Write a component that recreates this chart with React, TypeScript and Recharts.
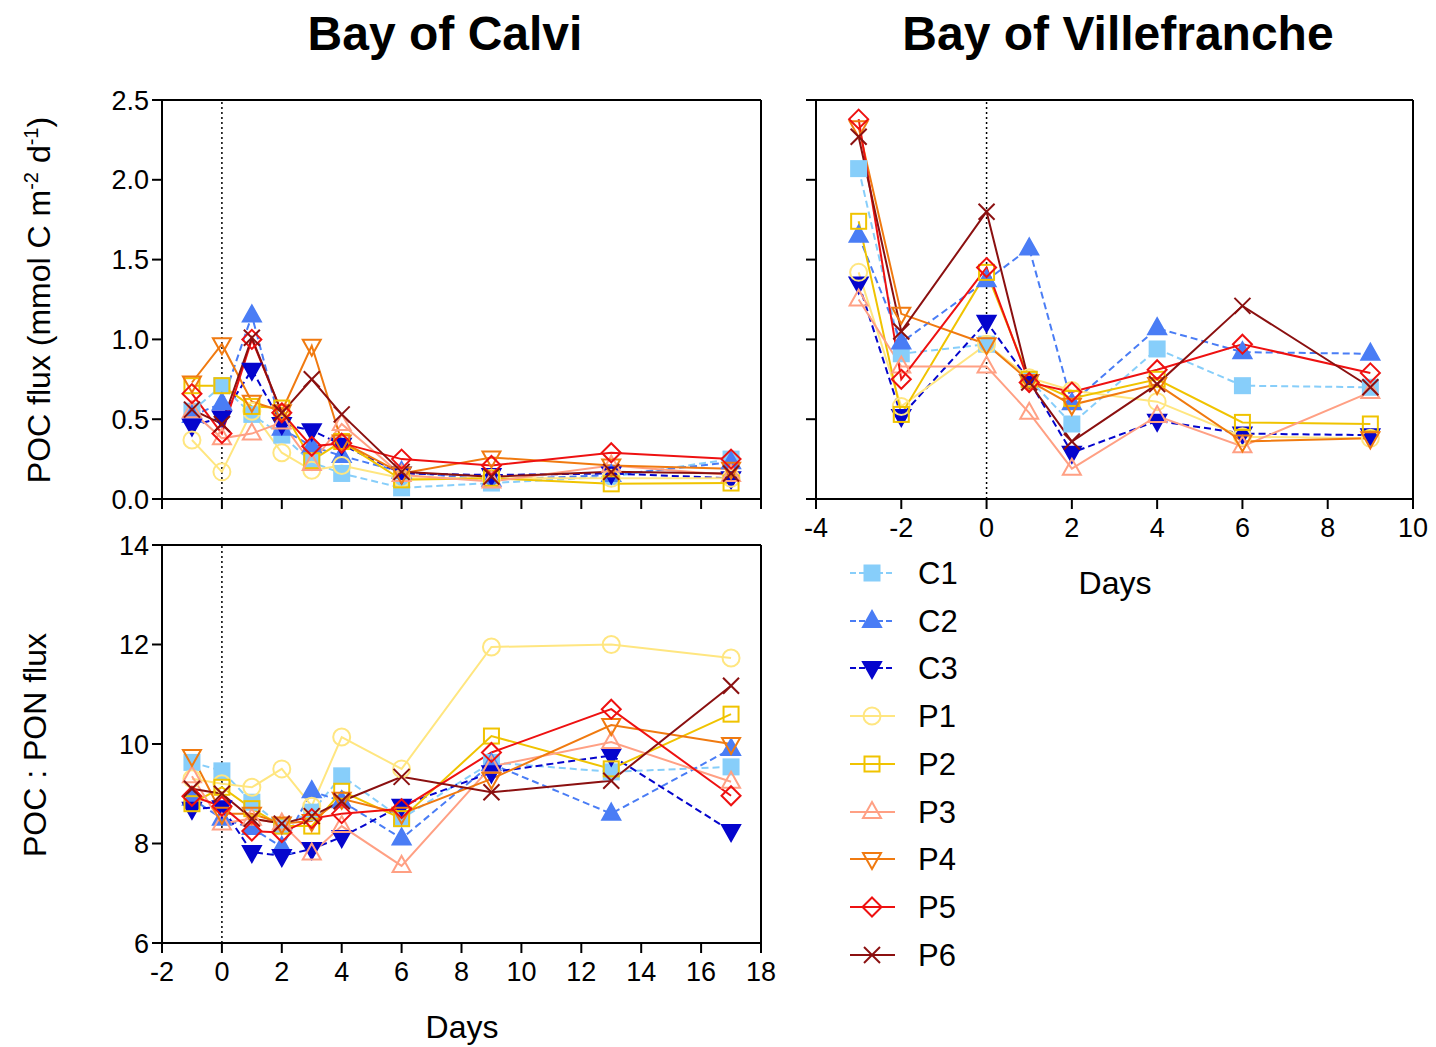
import React from 'react';
import { LineChart, Line, XAxis, YAxis, ReferenceLine } from 'recharts';

// ---------- categories ----------
const calviDays = [-1, 0, 1, 2, 3, 4, 6, 9, 13, 17];
const villeDays = [-3, -2, 0, 1, 2, 4, 6, 9];

// ---------- Bay of Calvi : POC flux ----------
const calviPocC1 = [0.55, 0.71, 0.53, 0.40, 0.23, 0.16, 0.07, 0.10, 0.14, 0.25];
const calviPocC2 = [0.52, 0.60, 1.15, 0.44, 0.33, 0.27, 0.17, 0.12, 0.15, 0.23];
const calviPocC3 = [0.46, 0.51, 0.81, 0.47, 0.43, 0.34, 0.16, 0.15, 0.16, 0.13];
const calviPocP1 = [0.37, 0.17, 0.55, 0.29, 0.18, 0.21, 0.13, 0.13, 0.13, 0.13];
const calviPocP2 = [0.71, 0.71, 0.58, 0.57, 0.24, 0.36, 0.12, 0.13, 0.095, 0.10];
const calviPocP3 = [0.55, 0.38, 0.41, 0.48, 0.22, 0.47, 0.15, 0.11, 0.21, 0.15];
const calviPocP4 = [0.73, 0.97, 0.61, 0.55, 0.96, 0.36, 0.16, 0.26, 0.21, 0.19];
const calviPocP5 = [0.66, 0.41, 1.00, 0.54, 0.33, 0.35, 0.25, 0.21, 0.29, 0.25];
const calviPocP6 = [0.56, 0.47, 1.01, 0.54, 0.75, 0.53, 0.17, 0.14, 0.17, 0.16];

// ---------- Bay of Villefranche : POC flux ----------
const villePocC1 = [2.07, 0.91, 0.97, 0.75, 0.47, 0.94, 0.71, 0.70];
const villePocC2 = [1.65, 0.98, 1.37, 1.57, 0.60, 1.07, 0.92, 0.91];
const villePocC3 = [1.35, 0.52, 1.11, 0.74, 0.29, 0.49, 0.41, 0.40];
const villePocP1 = [1.42, 0.58, 0.97, 0.76, 0.68, 0.61, 0.39, 0.38];
const villePocP2 = [1.74, 0.53, 1.42, 0.75, 0.63, 0.75, 0.48, 0.47];
const villePocP3 = [1.25, 0.83, 0.83, 0.54, 0.19, 0.52, 0.33, 0.67];
const villePocP4 = [2.33, 1.16, 0.97, 0.74, 0.59, 0.72, 0.36, 0.38];
const villePocP5 = [2.38, 0.75, 1.45, 0.73, 0.67, 0.81, 0.97, 0.79];
const villePocP6 = [2.27, 1.05, 1.80, 0.73, 0.36, 0.72, 1.21, 0.70];

// ---------- Bay of Calvi : POC : PON ----------
const calviRatioC1 = [9.63, 9.46, 8.83, 8.35, 8.63, 9.36, 8.50, 9.63, 9.44, 9.54];
const calviRatioC2 = [8.90, 8.50, 8.31, 7.93, 9.05, 8.85, 8.10, 9.60, 8.60, 9.90];
const calviRatioC3 = [8.70, 8.73, 7.83, 7.75, 7.89, 8.13, 8.76, 9.43, 9.77, 8.25];
const calviRatioP1 = [9.30, 9.20, 9.13, 9.50, 8.75, 10.14, 9.50, 11.95, 12.00, 11.73];
const calviRatioP2 = [8.80, 9.13, 8.70, 8.35, 8.35, 9.05, 8.50, 10.16, 9.50, 10.60];
const calviRatioP3 = [9.35, 8.40, 8.50, 8.40, 7.80, 8.35, 7.55, 9.55, 10.04, 9.24];
const calviRatioP4 = [9.76, 8.60, 8.60, 8.40, 8.45, 8.90, 8.60, 9.30, 10.38, 10.00];
const calviRatioP5 = [8.95, 8.75, 8.25, 8.22, 8.50, 8.60, 8.70, 9.83, 10.70, 8.96];
const calviRatioP6 = [9.10, 9.00, 8.50, 8.40, 8.55, 8.85, 9.34, 9.03, 9.26, 11.17];

// ---------- ticks ----------
const calviXTicks = [-2, 0, 2, 4, 6, 8, 10, 12, 14, 16, 18];
const villeXTicks = [-4, -2, 0, 2, 4, 6, 8, 10];
const pocYTicks = [0, 0.5, 1.0, 1.5, 2.0, 2.5];
const ratioYTicks = [6, 8, 10, 12, 14];

// ---------- series ----------
const seriesNames = ['C1', 'C2', 'C3', 'P1', 'P2', 'P3', 'P4', 'P5', 'P6'];
const seriesColors = ['#87cefa', '#4a7df5', '#0505cd', '#ffe680', '#f0c300', '#ffa084', '#f07a10', '#ee1111', '#8b1010'];
const seriesShapes = ['square', 'triUp', 'triDown', 'circle', 'square', 'triUp', 'triDown', 'diamond', 'x'];
const seriesFilled = [true, true, true, false, false, false, false, false, false];
const seriesDashed = [true, true, true, false, false, false, false, false, false];

const calviPoc = [calviPocC1, calviPocC2, calviPocC3, calviPocP1, calviPocP2, calviPocP3, calviPocP4, calviPocP5, calviPocP6];
const villePoc = [villePocC1, villePocC2, villePocC3, villePocP1, villePocP2, villePocP3, villePocP4, villePocP5, villePocP6];
const calviRatio = [calviRatioC1, calviRatioC2, calviRatioC3, calviRatioP1, calviRatioP2, calviRatioP3, calviRatioP4, calviRatioP5, calviRatioP6];

function buildTable(days: number[], series: number[][]) {
  return days.map((d, i) => {
    const row: any = { day: d };
    seriesNames.forEach((n, s) => {
      row[n] = series[s][i];
    });
    return row;
  });
}

const calviPocData = buildTable(calviDays, calviPoc);
const villePocData = buildTable(villeDays, villePoc);
const calviRatioData = buildTable(calviDays, calviRatio);

const FONT = '"Liberation Sans", Arial, Helvetica, sans-serif';

function Marker({ shape, color, filled, cx, cy }: any) {
  if (cx == null || cy == null || isNaN(cx) || isNaN(cy)) return <g />;
  const fill = filled ? color : 'none';
  const sw = 2;
  switch (shape) {
    case 'square':
      return <rect x={cx - 7.5} y={cy - 7.5} width={15} height={15} fill={fill} stroke={color} strokeWidth={sw} />;
    case 'triUp':
      return <polygon points={`${cx},${cy - 10} ${cx + 9},${cy + 6} ${cx - 9},${cy + 6}`} fill={fill} stroke={color} strokeWidth={sw} />;
    case 'triDown':
      return <polygon points={`${cx},${cy + 10} ${cx + 9},${cy - 6} ${cx - 9},${cy - 6}`} fill={fill} stroke={color} strokeWidth={sw} />;
    case 'circle':
      return <circle cx={cx} cy={cy} r={8.5} fill={fill} stroke={color} strokeWidth={sw} />;
    case 'diamond':
      return <polygon points={`${cx},${cy - 9.5} ${cx + 9.5},${cy} ${cx},${cy + 9.5} ${cx - 9.5},${cy}`} fill={fill} stroke={color} strokeWidth={sw} />;
    case 'x':
      return (
        <g stroke={color} strokeWidth={sw}>
          <line x1={cx - 8} y1={cy - 8} x2={cx + 8} y2={cy + 8} />
          <line x1={cx - 8} y1={cy + 8} x2={cx + 8} y2={cy - 8} />
        </g>
      );
    default:
      return <g />;
  }
}

function renderLines() {
  return seriesNames.map((name, s) => (
    <Line
      key={name}
      type="linear"
      dataKey={name}
      stroke={seriesColors[s]}
      strokeWidth={2}
      strokeDasharray={seriesDashed[s] ? '7 4' : undefined}
      isAnimationActive={false}
      activeDot={false}
      dot={(p: any) => (
        <Marker
          key={`${name}-${p.index}`}
          shape={seriesShapes[s]}
          color={seriesColors[s]}
          filled={seriesFilled[s]}
          cx={p.cx}
          cy={p.cy}
        />
      )}
    />
  ));
}

const axisLine = { stroke: '#000', strokeWidth: 2 };
const tickStyle = { fontSize: 27, fill: '#000', fontFamily: FONT };
const blank = () => '';

function Panel({ left, top, width, height, margin, data, xDomain, xTicks, yDomain, yTicks, yWidth, xHeight, showX, showY, yFmt }: any) {
  return (
    <div style={{ position: 'absolute', left, top, width, height }}>
      <LineChart width={width} height={height} data={data} margin={margin} style={{ overflow: 'visible' }}>
        <XAxis
          dataKey="day"
          type="number"
          domain={xDomain}
          ticks={xTicks}
          interval={0}
          height={xHeight}
          axisLine={axisLine}
          tickLine={axisLine}
          tickSize={10}
          tickMargin={9}
          tick={tickStyle}
          tickFormatter={showX ? (v: number) => `${v}` : blank}
        />
        <YAxis
          type="number"
          domain={yDomain}
          ticks={yTicks}
          interval={0}
          width={yWidth}
          axisLine={axisLine}
          tickLine={axisLine}
          tickSize={10}
          tickMargin={3}
          tick={tickStyle}
          tickFormatter={showY ? yFmt : blank}
        />
        <ReferenceLine x={0} stroke="#000" strokeWidth={1.5} strokeDasharray="2 3" />
        <ReferenceLine y={yDomain[1]} stroke="#000" strokeWidth={2} />
        <ReferenceLine x={xDomain[1]} stroke="#000" strokeWidth={2} />
        {renderLines()}
      </LineChart>
    </div>
  );
}

function Legend() {
  const rowY = [573, 621, 668, 716, 764, 812, 859, 907, 955];
  return (
    <g>
      {seriesNames.map((n, s) => (
        <g key={n}>
          <line
            x1={850}
            x2={895}
            y1={rowY[s]}
            y2={rowY[s]}
            stroke={seriesColors[s]}
            strokeWidth={2}
            strokeDasharray={seriesDashed[s] ? '6 3' : undefined}
          />
          <Marker shape={seriesShapes[s]} color={seriesColors[s]} filled={seriesFilled[s]} cx={872} cy={rowY[s]} />
          <text x={918} y={rowY[s] + 11} fontSize={31} fontFamily={FONT} fill="#000">
            {n}
          </text>
        </g>
      ))}
    </g>
  );
}

export default function App() {
  return (
    <div style={{ position: 'absolute', left: 0, top: 0, width: 1436, height: 1047, background: '#fff', fontFamily: FONT }}>
      <Panel
        left={60}
        top={70}
        width={720}
        height={449}
        margin={{ top: 30, right: 19, bottom: 0, left: 0 }}
        data={calviPocData}
        xDomain={[-2, 18]}
        xTicks={calviXTicks}
        yDomain={[0, 2.5]}
        yTicks={pocYTicks}
        yWidth={102}
        xHeight={20}
        showX={false}
        showY={true}
        yFmt={(v: number) => v.toFixed(1)}
      />
      <Panel
        left={776}
        top={70}
        width={660}
        height={479}
        margin={{ top: 30, right: 23, bottom: 0, left: 0 }}
        data={villePocData}
        xDomain={[-4, 10]}
        xTicks={villeXTicks}
        yDomain={[0, 2.5]}
        yTicks={pocYTicks}
        yWidth={40}
        xHeight={50}
        showX={true}
        showY={false}
        yFmt={(v: number) => v.toFixed(1)}
      />
      <Panel
        left={60}
        top={524}
        width={720}
        height={479}
        margin={{ top: 21, right: 19, bottom: 0, left: 0 }}
        data={calviRatioData}
        xDomain={[-2, 18]}
        xTicks={calviXTicks}
        yDomain={[6, 14]}
        yTicks={ratioYTicks}
        yWidth={102}
        xHeight={60}
        showX={true}
        showY={true}
        yFmt={(v: number) => `${v}`}
      />
      <svg width={1436} height={1047} style={{ position: 'absolute', left: 0, top: 0, pointerEvents: 'none' }}>
        <text x={445} y={50} textAnchor="middle" fontSize={48} fontWeight="bold" fontFamily={FONT} fill="#000">
          Bay of Calvi
        </text>
        <text x={1118} y={50} textAnchor="middle" fontSize={48} fontWeight="bold" fontFamily={FONT} fill="#000">
          Bay of Villefranche
        </text>
        <text transform="translate(50,300) rotate(-90)" textAnchor="middle" fontSize={32} fontFamily={FONT} fill="#000">
          POC flux (mmol C m
          <tspan fontSize={20} dy={-12}>-2</tspan>
          <tspan dy={12}> d</tspan>
          <tspan fontSize={20} dy={-12}>-1</tspan>
          <tspan dy={12}>)</tspan>
        </text>
        <text transform="translate(46,745) rotate(-90)" textAnchor="middle" fontSize={32} fontFamily={FONT} fill="#000">
          POC : PON flux
        </text>
        <text x={1115} y={594} textAnchor="middle" fontSize={32} fontFamily={FONT} fill="#000">
          Days
        </text>
        <text x={462} y={1038} textAnchor="middle" fontSize={32} fontFamily={FONT} fill="#000">
          Days
        </text>
        <Legend />
      </svg>
    </div>
  );
}
